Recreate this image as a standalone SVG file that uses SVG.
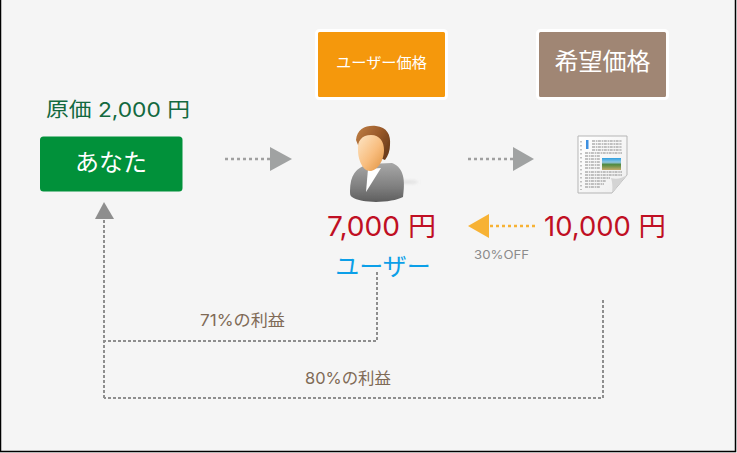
<svg xmlns="http://www.w3.org/2000/svg" width="737" height="453" viewBox="0 0 737 453">
<defs>
<linearGradient id="skin" x1="0" y1="0" x2="1" y2="1"><stop offset="0" stop-color="#fde6c6"/><stop offset="0.55" stop-color="#f8bd7e"/><stop offset="1" stop-color="#e0923f"/></linearGradient>
<linearGradient id="hair" x1="0" y1="0" x2="1" y2="0.6"><stop offset="0" stop-color="#c08045"/><stop offset="0.6" stop-color="#9a5a2a"/><stop offset="1" stop-color="#6d3d1c"/></linearGradient>
<linearGradient id="suit" x1="0" y1="0" x2="0" y2="1"><stop offset="0" stop-color="#a8a8a8"/><stop offset="0.6" stop-color="#808080"/><stop offset="1" stop-color="#5e5e5e"/></linearGradient>
<linearGradient id="paper" x1="0" y1="0" x2="1" y2="1"><stop offset="0" stop-color="#ffffff"/><stop offset="1" stop-color="#eeeeee"/></linearGradient>
<linearGradient id="pic" x1="0" y1="0" x2="0" y2="1"><stop offset="0" stop-color="#2f9fe0"/><stop offset="0.35" stop-color="#8fc7e0"/><stop offset="0.55" stop-color="#4f8a3e"/><stop offset="1" stop-color="#c4ab6a"/></linearGradient>
<filter id="soft" x="-10%" y="-10%" width="120%" height="120%"><feGaussianBlur stdDeviation="0.5"/></filter>
<filter id="shade" x="-30%" y="-30%" width="160%" height="160%"><feGaussianBlur stdDeviation="1.5"/></filter>
</defs>
<style>
text{font-family:"Inter","DejaVu Sans","Noto Sans CJK JP",sans-serif;text-anchor:middle}
.cjk{font-family:"Noto Sans CJK JP",sans-serif}
.dot{fill:none;stroke:#8e8e8e;stroke-width:2;stroke-dasharray:3 2}
.thick{stroke-width:2.500;stroke-dasharray:3 3}
.price{font-size:27px;fill:#c00f23;font-weight:400}
.pct{font-size:16px;fill:#7f6a55}
.doctxt{stroke:#888;stroke-width:1;stroke-dasharray:3 0.800 1.500 0.600;fill:none}
</style>
<rect width="737" height="453" fill="#f5f5f5"/>
<path d="M0.500 0V451.500H735.500V0" fill="none" stroke="#000" stroke-width="1.500"/>

<g id="connectors">
<g id="c-you-user"><path class="dot thick" style="stroke:#a0a0a0" d="M225 159H270"/><path d="M270 147L292 159L270 171Z" fill="#a0a2a2"/></g>
<g id="c-user-doc"><path class="dot thick" style="stroke:#a0a0a0" d="M468 159H513"/><path d="M513 147L534 159L513 171Z" fill="#a0a2a2"/></g>
<g id="c-discount"><path class="dot thick" style="stroke:#f7b234" d="M535 226H489"/><path d="M489 214L468 226L489 238Z" fill="#f7b234"/></g>
<g id="c-profit"><path class="dot" d="M104 398V218"/><path d="M104 202L114 219H95Z" fill="#8e8e8e"/>
<path class="dot" d="M377 272V341H104"/><path class="dot" d="M603 300V398H104"/></g>
</g>

<g id="node-you">
<text x="118" y="117" font-size="20" fill="#13693f" textLength="144" lengthAdjust="spacingAndGlyphs">原価 2,000 円</text>
<rect x="40" y="136.500" width="142.500" height="55" rx="3.500" fill="#01913a"/>
<text x="111" y="171" font-size="24" fill="#fff" class="cjk" style="font-weight:400">あなた</text>
</g>

<g id="node-user-price">
<rect x="316.500" y="30.500" width="130" height="68" rx="3" fill="#f5980c" stroke="#fff" stroke-width="3"/>
<text x="381.500" y="68" font-size="15" fill="#fff" class="cjk" style="font-weight:400" textLength="91" lengthAdjust="spacingAndGlyphs">ユーザー価格</text>
</g>

<g id="node-wish-price">
<rect x="537.500" y="30.500" width="130" height="68" rx="3" fill="#a08674" stroke="#fff" stroke-width="3"/>
<text x="602.500" y="70" font-size="24" fill="#fff" class="cjk" style="font-weight:400">希望価格</text>
</g>

<g id="node-user">
<g filter="url(#soft)">
<ellipse cx="408" cy="182" rx="10" ry="2" fill="#e2e2e2" filter="url(#shade)"/>
<path d="M350 191C350 175 356 168 368 164L392 163C402 167 406 176 403 197C392 203 362 204 352 197C350 196 350 194 350 191Z" fill="url(#suit)"/>
<path d="M368 169L381 168L366 192Z" fill="#fff"/>
<path d="M356 140C357 129 366 125 376 126C387 127 391 135 390 145C390 151 388 156 385 160L360 150Z" fill="url(#hair)"/>
<path d="M358 150C357 141 362 135 371 135C380 135 384 142 384 150C384 161 377 171 370 171C363 171 358 160 358 150Z" fill="url(#skin)"/>
</g>
</g>

<g id="node-doc">
<g filter="url(#soft)">
<path d="M578 136H627V175L612 193H578Z" fill="url(#paper)" stroke="#b5b5b5" stroke-width="1"/>
<path d="M627 175L612 193C613 186 612 181 611 178C617 180 622 178 627 175Z" fill="#d4d4d4"/>
<path d="M586 140h2.500v9h-2.500z" fill="#3d8fe0"/>
<path d="M581 141V190" class="doctxt" style="stroke-dasharray:1.500 2.500"/>
<path class="doctxt" d="M592 141H622M592 144H622M592 147H622M592 150H622M585 153H622M585 156H600M585 159H600M585 162H600M585 165H600M585 168H600M585 172H622M585 175H622M585 178H610M585 181H606M585 184H604M585 187H600"/>
<rect x="602" y="158" width="19" height="12" fill="url(#pic)"/>
</g>
</g>

<g id="label-prices">
<text x="381.500" y="236" class="price" textLength="109" lengthAdjust="spacingAndGlyphs">7,000 円</text>
<text x="605" y="236" class="price" textLength="122" lengthAdjust="spacingAndGlyphs">10,000 円</text>
<text x="501.500" y="259" font-size="12" fill="#8b8b8b" textLength="55" lengthAdjust="spacingAndGlyphs">30%OFF</text>
<text x="383" y="275" font-size="24" fill="#0b9fe8" class="cjk" style="font-weight:400">ユーザー</text>
<text x="242.500" y="326" class="pct" textLength="85" lengthAdjust="spacingAndGlyphs">71%の利益</text>
<text x="348" y="384" class="pct" textLength="86" lengthAdjust="spacingAndGlyphs">80%の利益</text>
</g>
</svg>
